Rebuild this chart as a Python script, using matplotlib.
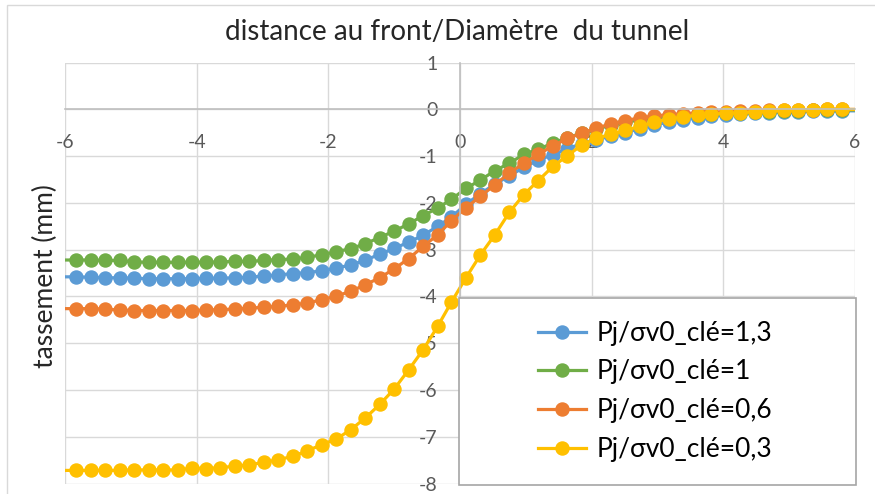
### Settlement profile ahead of the tunnel face (Excel-style line chart)

import matplotlib
matplotlib.use('Agg')
import matplotlib.pyplot as pp
from matplotlib.patches import Rectangle

##### DATA #####

# distance to the face / tunnel diameter (first and last points fall just outside the axis)
x = [-6.05, -5.83, -5.61, -5.39, -5.17, -4.95, -4.73, -4.51, -4.29, -4.07, -3.86,
     -3.64, -3.42, -3.20, -2.98, -2.76, -2.54, -2.32, -2.10, -1.88, -1.66, -1.44,
     -1.22, -1.00, -0.78, -0.56, -0.34, -0.13, 0.09, 0.31, 0.53, 0.75, 0.97, 1.19,
     1.41, 1.63, 1.85, 2.07, 2.29, 2.51, 2.73, 2.95, 3.17, 3.39, 3.61, 3.82, 4.04,
     4.26, 4.48, 4.70, 4.92, 5.14, 5.36, 5.58, 5.80, 6.02]

# settlement (mm)
s_13 = [-3.58, -3.58, -3.59, -3.60, -3.60, -3.61, -3.62, -3.62, -3.62, -3.62, -3.61,
        -3.61, -3.60, -3.59, -3.56, -3.54, -3.51, -3.49, -3.45, -3.39, -3.33, -3.22,
        -3.10, -2.97, -2.84, -2.69, -2.50, -2.30, -2.03, -1.80, -1.60, -1.42, -1.24,
        -1.08, -0.97, -0.84, -0.73, -0.65, -0.57, -0.50, -0.41, -0.33, -0.27, -0.22,
        -0.18, -0.15, -0.12, -0.10, -0.08, -0.07, -0.06, -0.05, -0.04, -0.03, -0.03, -0.03]
s_10 = [-3.22, -3.22, -3.22, -3.23, -3.23, -3.26, -3.27, -3.27, -3.27, -3.27, -3.27,
        -3.26, -3.25, -3.25, -3.23, -3.21, -3.20, -3.16, -3.11, -3.04, -2.98, -2.87,
        -2.74, -2.60, -2.45, -2.27, -2.11, -1.92, -1.69, -1.51, -1.31, -1.15, -0.96,
        -0.85, -0.72, -0.60, -0.51, -0.42, -0.34, -0.27, -0.22, -0.18, -0.15, -0.13,
        -0.11, -0.09, -0.08, -0.07, -0.06, -0.05, -0.04, -0.03, -0.02, -0.01, -0.01, -0.01]
s_06 = [-4.26, -4.26, -4.26, -4.27, -4.29, -4.30, -4.30, -4.30, -4.30, -4.30, -4.29,
        -4.28, -4.27, -4.25, -4.23, -4.21, -4.18, -4.14, -4.07, -3.99, -3.89, -3.75,
        -3.60, -3.41, -3.19, -2.93, -2.68, -2.38, -2.10, -1.86, -1.61, -1.36, -1.15,
        -0.96, -0.78, -0.62, -0.51, -0.40, -0.31, -0.24, -0.18, -0.14, -0.11, -0.09,
        -0.07, -0.06, -0.05, -0.04, -0.03, -0.02, -0.02, -0.01, -0.01, 0.00, 0.00, 0.00]
s_03 = [-7.72, -7.72, -7.72, -7.72, -7.72, -7.71, -7.71, -7.71, -7.71, -7.67, -7.68,
        -7.66, -7.63, -7.60, -7.55, -7.49, -7.42, -7.30, -7.17, -7.05, -6.85, -6.60,
        -6.31, -5.98, -5.57, -5.14, -4.64, -4.12, -3.60, -3.11, -2.68, -2.20, -1.82,
        -1.52, -1.22, -0.99, -0.76, -0.62, -0.53, -0.45, -0.36, -0.27, -0.21, -0.16,
        -0.12, -0.10, -0.08, -0.07, -0.05, -0.04, -0.02, -0.01, -0.01, 0.00, 0.00, 0.00]

labels = ['Pj/σv0_clé=1,3', 'Pj/σv0_clé=1', 'Pj/σv0_clé=0,6', 'Pj/σv0_clé=0,3']
colors = ['#5B9BD5', '#70AD47', '#ED7D31', '#FFC000']

xticks = [-6, -4, -2, 0, 2, 4, 6]
yticks = [-8, -7, -6, -5, -4, -3, -2, -1, 0, 1]

##### PLOT #####

pp.rcParams['font.family'] = ['Lato', 'DejaVu Sans']
pp.rcParams['axes.unicode_minus'] = False

fig = pp.figure(figsize=(8.75, 4.94), dpi=100)
W, H = 875.0, 494.0
ax = fig.add_axes([65/W, 1-483.5/H, 790/W, 420.8/H])

# Excel does not draw markers for points outside the axis range
show = [(-6 <= v <= 6) for v in x]

for ys, c, lab in zip([s_13, s_10, s_06, s_03], colors, labels):
    ax.plot(x, ys, color=c, lw=2.3, marker='o', ms=9.4, markevery=show,
            label=lab, solid_joinstyle='round')

ax.set_xlim(-6, 6)
ax.set_ylim(-8, 1)
ax.set_xticks(xticks)
ax.set_yticks(yticks)
ax.grid(color='#D9D9D9', lw=1.0)

# axes cross at the origin
for side in ['top', 'right']:
    ax.spines[side].set_visible(False)
for side in ['left', 'bottom']:
    ax.spines[side].set_position(('data', 0))
    ax.spines[side].set_color('#BFBFBF')
    ax.spines[side].set_linewidth(1.2)

ax.tick_params(length=0, labelsize=14, labelcolor='#595959')
ax.tick_params(axis='x', pad=18)
ax.tick_params(axis='y', pad=16)

# titles
fig.text(457/W, 1-32/H, 'distance au front/Diamètre  du tunnel', ha='center', va='center',
         fontsize=20, color='#262626')
fig.text(45/W, 1-276/H, 'tassement (mm)', ha='center', va='center', rotation=90,
         fontsize=19, color='#262626')

# legend box (drawn by hand, Excel box is wider than its content)
box = Rectangle(((459-65)/790, (483.5-485)/420.8), 397/790, 187/420.8, transform=ax.transAxes,
                facecolor='white', edgecolor='#A6A6A6', lw=1.2, zorder=4, clip_on=False)
ax.add_patch(box)
leg = ax.legend(loc='center', bbox_to_anchor=(0.747, 0.219), frameon=False, fontsize=19,
                handlelength=1.85, handletextpad=0.4, labelspacing=0.52)
leg.set_zorder(6)

# outer chart border
fig.patches.append(Rectangle((7/W, -0.05), 1.2, 1-5/H+0.05, transform=fig.transFigure,
                             facecolor='none', edgecolor='#D9D9D9', lw=1.0))

fig.savefig('out.png', dpi=100)
